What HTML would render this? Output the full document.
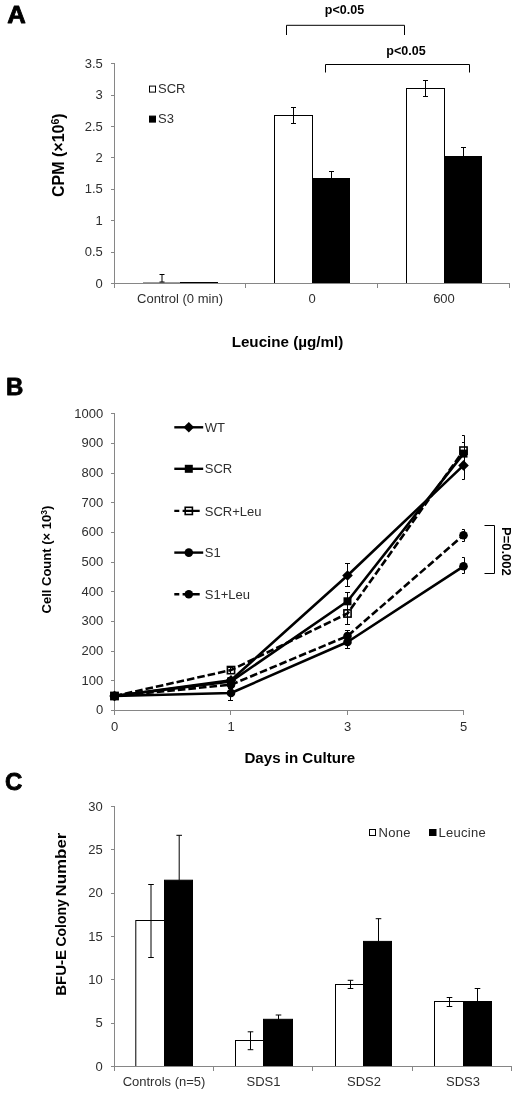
<!DOCTYPE html>
<html><head><meta charset="utf-8"><title>Figure</title>
<style>
html,body{margin:0;padding:0;background:#fff;}
svg{display:block;}
text{font-family:"Liberation Sans",Arial,sans-serif;fill:#2e2e2e;}
.t{font-size:13px;}
.b{font-weight:bold;fill:#000;}
.ax{stroke:#868686;stroke-width:1;fill:none;shape-rendering:crispEdges;}
.k{stroke:#000;stroke-width:1;fill:none;}
.wb{fill:#fff;stroke:#000;stroke-width:1;}
.bb{fill:#000;stroke:#000;stroke-width:1;}
.ln{stroke:#000;stroke-width:2.6;fill:none;stroke-linejoin:round;}
.dl{stroke:#000;stroke-width:2.6;fill:none;stroke-dasharray:7.6 3;}
</style></head><body>
<svg width="520" height="1100" viewBox="0 0 520 1100">
<rect width="520" height="1100" fill="#fff"/>

<text transform="translate(7.3,23.1) scale(1.07,1)" class="b" style="font-size:24px;stroke:#000;stroke-width:0.8px;stroke-linejoin:round">A</text>
<text class="t" x="102.8" y="287.5" text-anchor="end">0</text>
<text class="t" x="102.8" y="256.1" text-anchor="end">0.5</text>
<text class="t" x="102.8" y="224.7" text-anchor="end">1</text>
<text class="t" x="102.8" y="193.3" text-anchor="end">1.5</text>
<text class="t" x="102.8" y="161.9" text-anchor="end">2</text>
<text class="t" x="102.8" y="130.5" text-anchor="end">2.5</text>
<text class="t" x="102.8" y="99.1" text-anchor="end">3</text>
<text class="t" x="102.8" y="67.7" text-anchor="end">3.5</text>
<path d="M143,282.5H180" stroke="#9a9a9a" stroke-width="1" fill="none"/>
<path d="M180,282.75H218" stroke="#000" stroke-width="1.5" fill="none"/>
<path class="k" d="M162,274.5V282M159.5,274.5H164.5M159.5,282H164.5"/>
<rect class="wb" x="274.5" y="115.5" width="38.0" height="168.0"/>
<rect class="bb" x="312.5" y="178.5" width="37.0" height="105.0"/>
<path class="k" d="M293.5,107.5V123.5M291.0,107.5H296.0M291.0,123.5H296.0"/>
<path class="k" d="M331.5,171.5V178.5M329.0,171.5H334.0"/>
<rect class="wb" x="406.5" y="88.5" width="38.0" height="195.0"/>
<rect class="bb" x="444.5" y="156.5" width="37.0" height="127.0"/>
<path class="k" d="M425.5,80.5V96.5M423.0,80.5H428.0M423.0,96.5H428.0"/>
<path class="k" d="M463.5,147.5V156.5M461.0,147.5H466.0"/>
<path class="ax" d="M114.5,63.5V283.5H509.5M110.5,283.5H114.5M110.5,252.5H114.5M110.5,220.5H114.5M110.5,189.5H114.5M110.5,157.5H114.5M110.5,126.5H114.5M110.5,95.5H114.5M110.5,63.5H114.5M114.5,283.5V287.5M245.5,283.5V287.5M377.5,283.5V287.5M509.5,283.5V287.5"/>
<path class="k" d="M286.5,35V25.3H404.5V35"/>
<path class="k" d="M325.5,72.5V64.5H469.5V72.5"/>
<text class="b" style="font-size:12.5px" x="344.5" y="13.9" text-anchor="middle">p&lt;0.05</text>
<text class="b" style="font-size:12.5px" x="406" y="54.6" text-anchor="middle">p&lt;0.05</text>
<rect class="wb" x="149.5" y="86.1" width="6" height="6"/>
<text class="t" x="158" y="93.4">SCR</text>
<rect class="bb" x="149.5" y="116.1" width="6" height="6"/>
<text class="t" x="158" y="123.4">S3</text>
<text class="b" style="font-size:16px" transform="translate(64.3,155.2) rotate(-90)" text-anchor="middle">CPM (×10<tspan dy="-5.5" style="font-size:10.5px">6</tspan><tspan dy="5.5">)</tspan></text>
<text class="b" style="font-size:15.2px" x="287.5" y="347" text-anchor="middle">Leucine (µg/ml)</text>
<text class="t" x="180" y="303" text-anchor="middle">Control (0 min)</text>
<text class="t" x="312" y="303" text-anchor="middle">0</text>
<text class="t" x="444" y="303" text-anchor="middle">600</text>
<text transform="translate(5.9,394.7) scale(1.0,1)" class="b" style="font-size:24px;stroke:#000;stroke-width:0.8px;stroke-linejoin:round">B</text>
<path class="ax" d="M114.5,413.8V710.5H463.5M110.5,710.5H114.5M110.5,680.5H114.5M110.5,651.5H114.5M110.5,621.5H114.5M110.5,591.5H114.5M110.5,562.5H114.5M110.5,532.5H114.5M110.5,502.5H114.5M110.5,473.5H114.5M110.5,443.5H114.5M110.5,413.5H114.5M114.5,710.5V714.5M230.5,710.5V714.5M347.5,710.5V714.5M463.5,710.5V714.5"/>
<text class="t" x="103.2" y="714.3" text-anchor="end">0</text>
<text class="t" x="103.2" y="684.6" text-anchor="end">100</text>
<text class="t" x="103.2" y="655.0" text-anchor="end">200</text>
<text class="t" x="103.2" y="625.3" text-anchor="end">300</text>
<text class="t" x="103.2" y="595.6" text-anchor="end">400</text>
<text class="t" x="103.2" y="565.9" text-anchor="end">500</text>
<text class="t" x="103.2" y="536.3" text-anchor="end">600</text>
<text class="t" x="103.2" y="506.6" text-anchor="end">700</text>
<text class="t" x="103.2" y="476.9" text-anchor="end">800</text>
<text class="t" x="103.2" y="447.3" text-anchor="end">900</text>
<text class="t" x="103.2" y="417.6" text-anchor="end">1000</text>
<text class="t" x="114.5" y="730.5" text-anchor="middle">0</text>
<text class="t" x="231" y="730.5" text-anchor="middle">1</text>
<text class="t" x="347.5" y="730.5" text-anchor="middle">3</text>
<text class="t" x="463.5" y="730.5" text-anchor="middle">5</text>
<path class="k" d="M230.5,677.5V684.5M228.0,677.5H233.0M228.0,684.5H233.0"/>
<path class="k" d="M347.5,563.5V586.5M345.0,563.5H350.0M345.0,586.5H350.0"/>
<path class="k" d="M464.5,454.5V479.5M462.0,454.5H464.5M462.0,479.5H464.5"/>
<path class="k" d="M230.5,678.5V685.5M228.0,678.5H233.0M228.0,685.5H233.0"/>
<path class="k" d="M347.5,592.5V609.5M345.0,592.5H350.0M345.0,609.5H350.0"/>
<path class="k" d="M464.5,442.5V465.5M462.0,442.5H464.5M462.0,465.5H464.5"/>
<path class="k" d="M230.5,667.5V673.5M228.0,667.5H233.0M228.0,673.5H233.0"/>
<path class="k" d="M347.5,602.5V624.5M345.0,602.5H350.0M345.0,624.5H350.0"/>
<path class="k" d="M464.5,435.5V464.5M462.0,435.5H464.5M462.0,464.5H464.5"/>
<path class="k" d="M230.5,686.5V700.5M228.0,686.5H233.0M228.0,700.5H233.0"/>
<path class="k" d="M347.5,636.5V648.5M345.0,636.5H350.0M345.0,648.5H350.0"/>
<path class="k" d="M464.5,557.5V573.5M462.0,557.5H464.5M462.0,573.5H464.5"/>
<path class="k" d="M230.5,682.5V688.5M228.0,682.5H233.0M228.0,688.5H233.0"/>
<path class="k" d="M347.5,630.5V642.5M345.0,630.5H350.0M345.0,642.5H350.0"/>
<path class="k" d="M464.5,529.5V541.5M462.0,529.5H464.5M462.0,541.5H464.5"/>
<polyline class="ln" points="114.5,696.0 231,680.2 347.5,575.5 463.5,465.4"/>
<polyline class="ln" points="114.5,696.0 231,681.4 347.5,601.3 463.5,453.6"/>
<polyline class="dl" points="114.5,696.0 231,670.1 347.5,613.5 463.5,450.6"/>
<polyline class="ln" points="114.5,696.0 231,693.0 347.5,642.0 463.5,566.3"/>
<polyline class="dl" points="114.5,696.0 231,684.7 347.5,636.0 463.5,535.2"/>
<path d="M114.5,690.7L119.8,696.0L114.5,701.3L109.2,696.0Z" fill="#000"/>
<path d="M231,674.9000000000001L236.3,680.2L231,685.5L225.7,680.2Z" fill="#000"/>
<path d="M347.5,570.2L352.8,575.5L347.5,580.8L342.2,575.5Z" fill="#000"/>
<path d="M463.5,460.09999999999997L468.8,465.4L463.5,470.7L458.2,465.4Z" fill="#000"/>
<rect x="110.5" y="692.0" width="8" height="8" fill="#000"/>
<rect x="227" y="677.4" width="8" height="8" fill="#000"/>
<rect x="343.5" y="597.3" width="8" height="8" fill="#000"/>
<rect x="459.5" y="449.6" width="8" height="8" fill="#000"/>
<rect x="110.9" y="692.4" width="7.2" height="7.2" fill="none" stroke="#000" stroke-width="1.6"/>
<rect x="227.4" y="666.5" width="7.2" height="7.2" fill="none" stroke="#000" stroke-width="1.6"/>
<rect x="343.9" y="609.9" width="7.2" height="7.2" fill="none" stroke="#000" stroke-width="1.6"/>
<rect x="459.9" y="447.0" width="7.2" height="7.2" fill="none" stroke="#000" stroke-width="1.6"/>
<circle cx="114.5" cy="696.0" r="4.3" fill="#000"/>
<circle cx="231" cy="693.0" r="4.3" fill="#000"/>
<circle cx="347.5" cy="642.0" r="4.3" fill="#000"/>
<circle cx="463.5" cy="566.3" r="4.3" fill="#000"/>
<circle cx="114.5" cy="696.0" r="4.3" fill="#000"/>
<circle cx="231" cy="684.7" r="4.3" fill="#000"/>
<circle cx="347.5" cy="636.0" r="4.3" fill="#000"/>
<circle cx="463.5" cy="535.2" r="4.3" fill="#000"/>
<path class="ln" style="stroke-width:2.4" d="M174.3,427.3H203.2"/>
<path d="M188.8,422.0L194.10000000000002,427.3L188.8,432.6L183.5,427.3Z" fill="#000"/>
<text class="t" x="204.8" y="431.9">WT</text>
<path class="ln" style="stroke-width:2.4" d="M174.3,468.8H203.2"/>
<rect x="184.8" y="464.8" width="8" height="8" fill="#000"/>
<text class="t" x="204.8" y="473.4">SCR</text>
<path class="ln" style="stroke-width:2.4" d="M174.3,510.9H179.3M182.6,510.9H199.7"/>
<rect x="185.20000000000002" y="507.29999999999995" width="7.2" height="7.2" fill="none" stroke="#000" stroke-width="1.6"/>
<text class="t" x="204.8" y="515.5">SCR+Leu</text>
<path class="ln" style="stroke-width:2.4" d="M174.3,552.6H203.2"/>
<circle cx="188.8" cy="552.6" r="4.3" fill="#000"/>
<text class="t" x="204.8" y="557.2">S1</text>
<path class="ln" style="stroke-width:2.4" d="M174.3,594.2H179.3M182.6,594.2H199.7"/>
<circle cx="188.8" cy="594.2" r="4.3" fill="#000"/>
<text class="t" x="204.8" y="598.8">S1+Leu</text>
<path class="k" d="M484.5,525.5H494.5V573.5H484.5"/>
<text class="b" style="font-size:13px" transform="translate(502.3,527) rotate(90)">P=0.002</text>
<text class="b" style="font-size:13px" transform="translate(50.9,559.6) rotate(-90)" text-anchor="middle">Cell Count (× 10<tspan dy="-4" style="font-size:8.5px">3</tspan><tspan dy="4">)</tspan></text>
<text class="b" style="font-size:15.1px" x="299.8" y="763.3" text-anchor="middle">Days in Culture</text>
<text transform="translate(5.1,789.6) scale(1.0,1)" class="b" style="font-size:24px;stroke:#000;stroke-width:0.8px;stroke-linejoin:round">C</text>
<text class="t" x="102.8" y="1070.7" text-anchor="end">0</text>
<text class="t" x="102.8" y="1027.4" text-anchor="end">5</text>
<text class="t" x="102.8" y="984.0" text-anchor="end">10</text>
<text class="t" x="102.8" y="940.7" text-anchor="end">15</text>
<text class="t" x="102.8" y="897.4" text-anchor="end">20</text>
<text class="t" x="102.8" y="854.0" text-anchor="end">25</text>
<text class="t" x="102.8" y="810.7" text-anchor="end">30</text>
<rect class="wb" x="135.8" y="920.5" width="28.69999999999999" height="146.0"/>
<rect class="bb" x="164.5" y="880.2" width="28.0" height="186.29999999999995"/>
<path class="k" d="M151.0,884.5V957.5M148.2,884.5H153.8M148.2,957.5H153.8"/>
<path class="k" d="M179.2,835.3V880.2M176.39999999999998,835.3H182.0"/>
<rect class="wb" x="235.5" y="1040.5" width="28.0" height="26.0"/>
<rect class="bb" x="263.5" y="1019.3" width="29.0" height="47.200000000000045"/>
<path class="k" d="M250.5,1031.8V1049.7M247.7,1031.8H253.3M247.7,1049.7H253.3"/>
<path class="k" d="M278.5,1015.0V1019.3M275.7,1015.0H281.3"/>
<rect class="wb" x="335.5" y="984.5" width="28.0" height="82.0"/>
<rect class="bb" x="363.5" y="941.4" width="28.0" height="125.10000000000002"/>
<path class="k" d="M350.5,980.3V988.5M347.7,980.3H353.3M347.7,988.5H353.3"/>
<path class="k" d="M378.5,918.7V941.4M375.7,918.7H381.3"/>
<rect class="wb" x="434.5" y="1001.5" width="29.0" height="65.0"/>
<rect class="bb" x="463.5" y="1001.5" width="28.0" height="65.0"/>
<path class="k" d="M449.5,997.5V1006.5M446.7,997.5H452.3M446.7,1006.5H452.3"/>
<path class="k" d="M477.5,988.5V1001.5M474.7,988.5H480.3"/>
<path class="ax" d="M114.5,806.5V1066.5H511.5M110.5,1066.5H114.5M110.5,1023.5H114.5M110.5,979.5H114.5M110.5,936.5H114.5M110.5,893.5H114.5M110.5,849.5H114.5M110.5,806.5H114.5M114.5,1066.5V1070.5M213.5,1066.5V1070.5M312.5,1066.5V1070.5M412.5,1066.5V1070.5M511.5,1066.5V1070.5"/>
<rect class="wb" x="369.5" y="829.5" width="6" height="6"/>
<text class="t" x="378.6" y="837.3" style="letter-spacing:0.25px">None</text>
<rect class="bb" x="429.5" y="829.5" width="6.5" height="6"/>
<text class="t" x="438.6" y="837.3" style="letter-spacing:0.25px">Leucine</text>
<text class="b" style="font-size:15.2px" transform="translate(66,995.8) rotate(-90)" textLength="45.8" lengthAdjust="spacingAndGlyphs">BFU-E</text>
<text class="b" style="font-size:15.2px" transform="translate(66,946.6) rotate(-90)" textLength="47.3" lengthAdjust="spacingAndGlyphs">Colony</text>
<text class="b" style="font-size:15.2px" transform="translate(66,896.6) rotate(-90)" textLength="64.0" lengthAdjust="spacingAndGlyphs">Number</text>
<text class="t" x="164" y="1086" text-anchor="middle">Controls (n=5)</text>
<text class="t" x="263.5" y="1086" text-anchor="middle">SDS1</text>
<text class="t" x="364" y="1086" text-anchor="middle">SDS2</text>
<text class="t" x="463" y="1086" text-anchor="middle">SDS3</text>
</svg></body></html>
